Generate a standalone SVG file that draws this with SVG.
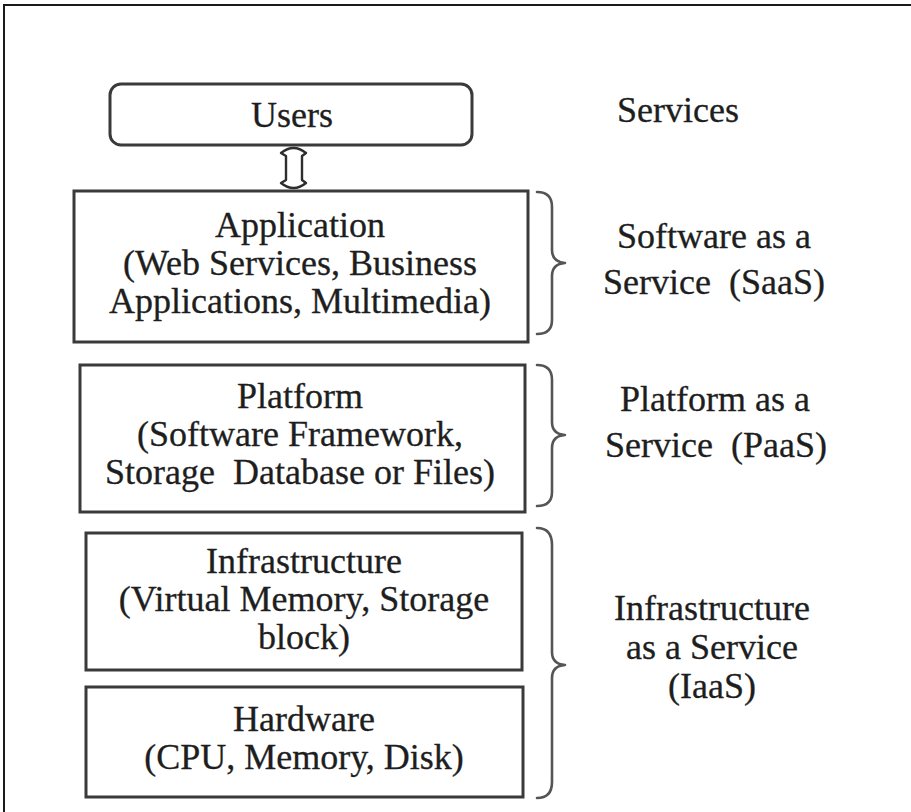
<svg xmlns="http://www.w3.org/2000/svg" width="911" height="812" viewBox="0 0 911 812">
  <style>
    .box { fill: #ffffff; stroke: #3a3a3a; stroke-width: 3; }
    .brace { fill: none; stroke: #555555; stroke-width: 2.6; stroke-linecap: round; stroke-linejoin: round; }
    .frame { fill: none; stroke: #1a1a1a; stroke-width: 2; }
    text { font-family: "Liberation Serif", "Times New Roman", serif; font-size: 36px; fill: #1e1e1e; stroke: #1e1e1e; stroke-width: 0.3; }
    .c { text-anchor: middle; }
  </style>

  <!-- outer frame (top and left edges only) -->
  <path class="frame" d="M4,812 V5 H911"/>

  <!-- stack of layers -->
  <g id="users">
    <rect class="box" x="110" y="84" width="362" height="61" rx="11" ry="11"/>
    <text class="c" x="292" y="127">Users</text>
  </g>

  <g id="application">
    <rect class="box" x="74" y="191" width="454" height="151"/>
    <text class="c" x="300" y="237">Application</text>
    <text class="c" x="300" y="275">(Web Services, Business</text>
    <text class="c" x="300" y="313">Applications, Multimedia)</text>
  </g>

  <g id="platform">
    <rect class="box" x="80" y="365" width="445" height="147"/>
    <text class="c" x="300" y="408">Platform</text>
    <text class="c" x="300" y="446">(Software Framework,</text>
    <text class="c" x="300" y="484" xml:space="preserve">Storage  Database or Files)</text>
  </g>

  <g id="infrastructure">
    <rect class="box" x="86" y="533" width="436" height="137"/>
    <text class="c" x="304" y="573">Infrastructure</text>
    <text class="c" x="304" y="611">(Virtual Memory, Storage</text>
    <text class="c" x="304" y="649">block)</text>
  </g>

  <g id="hardware">
    <rect class="box" x="86" y="687" width="437" height="110"/>
    <text class="c" x="304" y="731">Hardware</text>
    <text class="c" x="304" y="769">(CPU, Memory, Disk)</text>
  </g>

  <!-- service labels -->
  <g id="services">
    <text x="617" y="122">Services</text>
  </g>
  <g id="saas">
    <path class="brace" d="M537,192 Q552,192 552,207 V250 Q552,262 565,263 Q552,264 552,276 V320 Q552,334 537,334"/>
    <text class="c" x="714" y="248">Software as a</text>
    <text class="c" x="714" y="294" xml:space="preserve">Service  (SaaS)</text>
  </g>
  <g id="paas">
    <path class="brace" d="M537,365 Q552,365 552,380 V422 Q552,434 565,435 Q552,436 552,448 V492 Q552,506 537,506"/>
    <text class="c" x="715" y="411">Platform as a</text>
    <text class="c" x="716" y="457" xml:space="preserve">Service  (PaaS)</text>
  </g>
  <g id="iaas">
    <path class="brace" d="M537,528 Q552,528 552,545 V652 Q552,664 565,665 Q552,666 552,678 V782 Q552,798 537,798"/>
    <text class="c" x="712" y="620">Infrastructure</text>
    <text class="c" x="712" y="659">as a Service</text>
    <text class="c" x="712" y="698">(IaaS)</text>
  </g>

  <!-- connector between Users and Application -->
  <g id="connectors">
    <path fill="#ffffff" stroke="#2e2e2e" stroke-width="2.4" stroke-linejoin="round"
          d="M286,156 L281,153 Q293.5,143 306,153 L302,156 V180 L306,183 Q293.5,193 281,183 L286,180 Z"/>
  </g>
</svg>
